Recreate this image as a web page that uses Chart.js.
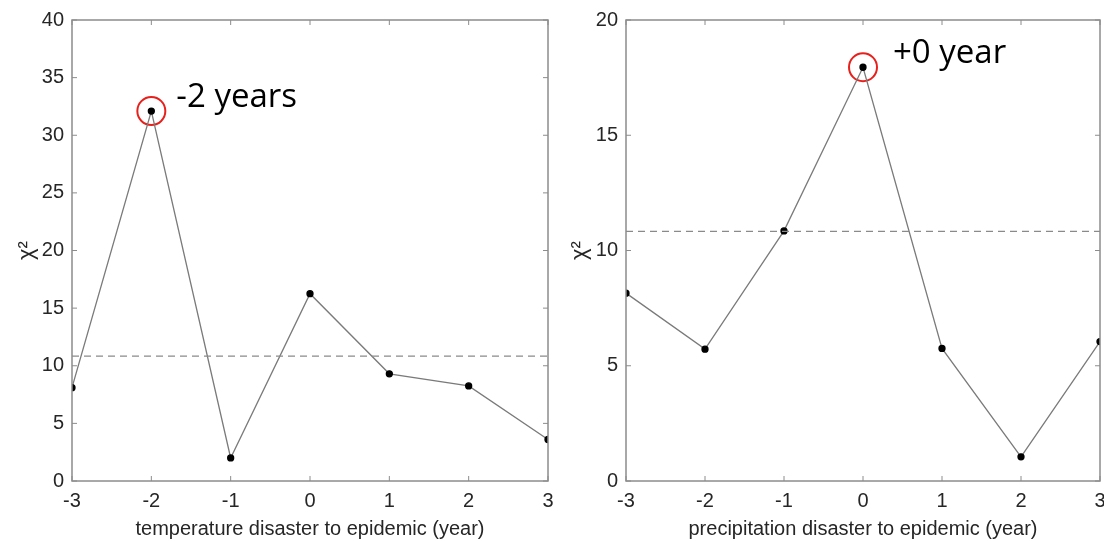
<!DOCTYPE html>
<html>
<head>
<meta charset="utf-8">
<script src="https://cdn.jsdelivr.net/npm/chart.js@4"></script>
<style>
  html, body { margin: 0; padding: 0; background: #fff; }
  body { width: 1104px; height: 541px; position: relative; overflow: hidden; }
  .panel { position: absolute; top: 0; height: 541px; }
  #leftBox { left: 0; width: 564px; }
  #rightBox { left: 560px; width: 556px; }
</style>
</head>
<body>
<div class="panel" id="leftBox"><canvas id="tempChart"></canvas></div>
<div class="panel" id="rightBox"><canvas id="precChart"></canvas></div>
<script>
// lag in years, disaster -> epidemic
const lags = [-3, -2, -1, 0, 1, 2, 3];
const tempChi2 = [8.1, 32.1, 2.0, 16.25, 9.3, 8.25, 3.6];
const precChi2 = [8.15, 5.72, 10.85, 17.95, 5.75, 1.05, 6.05];
const threshold = [10.83, 10.83];       // dashed critical value line
const thresholdLags = [-3, 3];
const tempTicksY = [0, 5, 10, 15, 20, 25, 30, 35, 40];
const precTicksY = [0, 5, 10, 15, 20];
const tempPeak = { lag: -2, label: '-2 years' };
const precPeak = { lag: 0, label: '+0 year' };

const axisGray = '#8c8c8c';
const textGray = '#262626';

// MATLAB-like box with inward ticks
const boxPlugin = {
  id: 'box',
  afterDraw(chart) {
    const { ctx, chartArea: a, scales } = chart;
    ctx.save();
    ctx.strokeStyle = axisGray;
    ctx.lineWidth = 1.5;
    ctx.strokeRect(a.left, a.top, a.right - a.left, a.bottom - a.top);
    ctx.lineWidth = 1;
    scales.x.ticks.forEach(t => {
      const px = scales.x.getPixelForValue(t.value);
      ctx.beginPath();
      ctx.moveTo(px, a.bottom); ctx.lineTo(px, a.bottom - 5);
      ctx.moveTo(px, a.top); ctx.lineTo(px, a.top + 5);
      ctx.stroke();
    });
    scales.y.ticks.forEach(t => {
      const py = scales.y.getPixelForValue(t.value);
      ctx.beginPath();
      ctx.moveTo(a.left, py); ctx.lineTo(a.left + 5, py);
      ctx.moveTo(a.right, py); ctx.lineTo(a.right - 5, py);
      ctx.stroke();
    });
    ctx.restore();
  }
};

// text next to the circled peak
const peakLabelPlugin = {
  id: 'peakLabel',
  afterDatasetsDraw(chart, args, opts) {
    const { ctx, scales } = chart;
    const px = scales.x.getPixelForValue(opts.x);
    const py = scales.y.getPixelForValue(opts.y);
    ctx.save();
    ctx.font = '33px "Open Sans"';
    ctx.fillStyle = '#000';
    ctx.textBaseline = 'alphabetic';
    ctx.fillText(opts.text, px + opts.dx, py + opts.dy);
    ctx.restore();
  }
};

function makeChart(id, values, yMax, yTicks, peak, xTitle, yWidth, titlePad, labelOffset) {
  const pts = lags.map((x, i) => ({ x: x, y: values[i] }));
  const thr = thresholdLags.map((x, i) => ({ x: x, y: threshold[i] }));
  const peakIdx = lags.indexOf(peak.lag);
  return new Chart(document.getElementById(id), {
    type: 'line',
    data: {
      datasets: [
        {
          data: thr,
          borderColor: '#8a8a8a',
          borderWidth: 1.3,
          borderDash: [7, 5],
          pointRadius: 0,
          fill: false
        },
        {
          data: pts,
          borderColor: '#7a7a7a',
          borderWidth: 1.3,
          tension: 0,
          pointRadius: 3,
          pointBackgroundColor: '#000',
          pointBorderColor: '#000',
          fill: false
        },
        {
          data: [{ x: peak.lag, y: values[peakIdx] }],
          showLine: false,
          pointRadius: 14,
          pointBorderWidth: 2,
          pointBorderColor: '#e8201c',
          pointBackgroundColor: 'rgba(0,0,0,0)'
        }
      ]
    },
    options: {
      responsive: true,
      maintainAspectRatio: false,
      animation: false,
      layout: { padding: { top: 20, right: 0, left: 0, bottom: 0 } },
      scales: {
        x: {
          type: 'linear',
          min: -3,
          max: 3,
          grid: { display: false, drawTicks: false },
          border: { display: false },
          afterFit(scale) { scale.height = 60; },
          ticks: {
            stepSize: 1,
            padding: 8,
            color: textGray,
            font: { family: '"Liberation Sans", Arial', size: 20 }
          },
          title: {
            display: true,
            text: xTitle,
            color: textGray,
            padding: { top: 8, bottom: 0 },
            font: { family: '"Liberation Sans", Arial', size: 20 }
          }
        },
        y: {
          min: 0,
          max: yMax,
          grid: { display: false, drawTicks: false },
          border: { display: false },
          afterFit(scale) { scale.width = yWidth; },
          afterBuildTicks(scale) { scale.ticks = yTicks.map(v => ({ value: v })); },
          ticks: {
            padding: 8,
            color: textGray,
            font: { family: '"Liberation Sans", Arial', size: 20 }
          },
          title: {
            display: true,
            text: 'χ²',
            color: textGray,
            padding: { top: titlePad, bottom: 0 },
            font: { family: '"Liberation Sans", Arial', size: 22 }
          }
        }
      },
      plugins: {
        legend: { display: false },
        tooltip: { enabled: false },
        peakLabel: {
          x: peak.lag,
          y: values[peakIdx],
          text: peak.label,
          dx: labelOffset[0],
          dy: labelOffset[1]
        }
      }
    },
    plugins: [boxPlugin, peakLabelPlugin]
  });
}

makeChart('tempChart', tempChi2, 40, tempTicksY, tempPeak,
  'temperature disaster to epidemic (year)', 72, 14, [25, -4]);
makeChart('precChart', precChi2, 20, precTicksY, precPeak,
  'precipitation disaster to epidemic (year)', 66, 7, [30, -4]);
</script>
</body>
</html>
